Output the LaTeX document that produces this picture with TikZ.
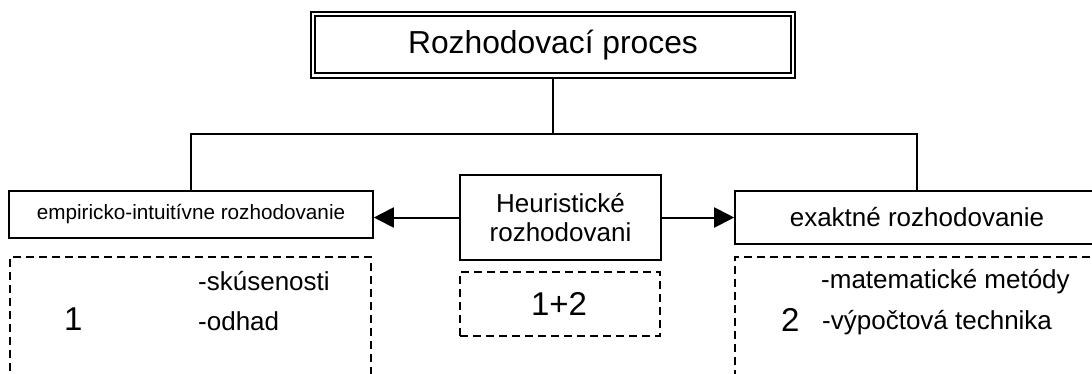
\documentclass[tikz,border=0pt]{standalone}
\usepackage{fontspec}
\setmainfont{Liberation Sans}
\usetikzlibrary{arrows.meta}
\begin{document}
\begin{tikzpicture}[x=1pt,y=-1pt,
  box/.style={draw,line width=1.6pt,rectangle,inner sep=0pt,align=center},
  dashbox/.style={draw,line width=1.8pt,dash pattern=on 8pt off 5pt,rectangle,inner sep=0pt,outer sep=0pt},
  txt/.style={inner sep=0pt,anchor=base west},
  big/.style={font=\fontsize{33}{36}\selectfont},
  mid/.style={font=\fontsize{26}{30}\selectfont},
  link/.style={line width=2pt},
  arr/.style={line width=2pt,-{Triangle[length=20pt,width=20pt]}},
  ]
\useasboundingbox (0,0) rectangle (1092,373);
\clip (0,0) rectangle (1092,373);

% title box with double border
\node[box,double,line width=1.9pt,double distance=2.4pt,outer sep=3.1pt,
      minimum width=480pt,minimum height=61.8pt,
      font=\fontsize{31.8}{36}\selectfont] (top) at (553,44.6) {Rozhodovací proces};

% second level
\node[box,minimum width=364pt,minimum height=47pt,
      font=\fontsize{20.7}{24}\selectfont] (emp) at (191,214.5) {empiricko-intuitívne rozhodovanie};
\node[box,minimum width=201pt,minimum height=85pt,
      font=\fontsize{26}{29}\selectfont] (heur) at (560.5,217.5) {Heuristické\\rozhodovani};
\node[box,minimum width=364pt,minimum height=53pt,mid] (exa) at (917,217.5) {exaktné rozhodovanie};

% dashed detail boxes
\node[dashbox,minimum width=361pt,minimum height=160pt,anchor=north] (dl) at (190.5,257) {};
\node[dashbox,minimum width=200pt,minimum height=64pt] (dm) at (560,304) {};
\node[dashbox,minimum width=364pt,minimum height=160pt,anchor=north] (dr) at (917,257) {};

\node[txt,big] (n1) at (64,330) {1};
\node[txt,mid] (s1) at (198,290) {-skúsenosti};
\node[txt,mid] (s2) at (198,330) {-odhad};
\node[inner sep=0pt,anchor=base,big] (n12) at (559,315) {1+2};
\node[txt,big] (n2) at (781,331) {2};
\node[txt,mid] (s3) at (821,288) {-matematické metódy};
\node[txt,mid] (s4) at (822,329) {-výpočtová technika};

% connectors
\coordinate (bus) at (553,134);
\draw[link] (top.south) -- (bus);
\draw[link] (emp.north) |- (bus) -| (exa.north);
\draw[arr] (heur.west) -- (heur.west -| emp.east);
\draw[arr] (heur.east) -- (heur.east -| exa.west);
\end{tikzpicture}
\end{document}
